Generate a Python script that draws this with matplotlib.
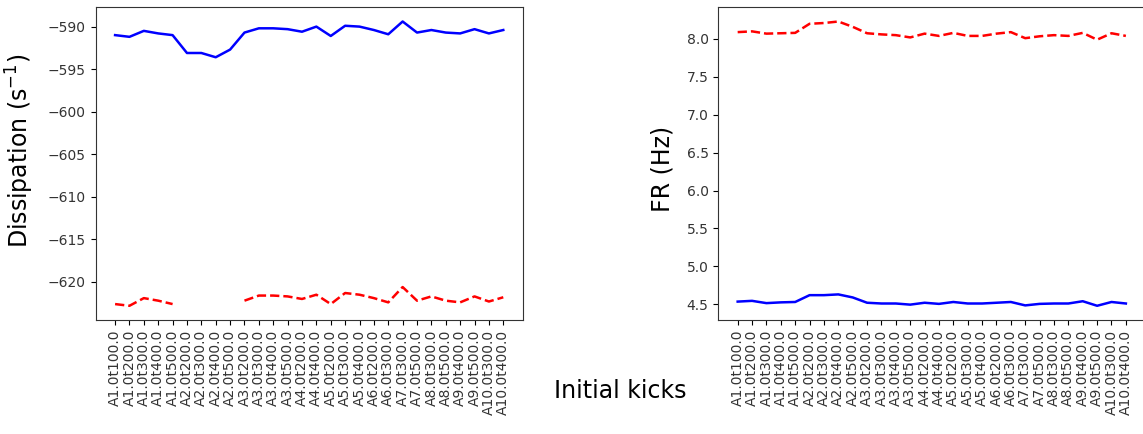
import matplotlib
matplotlib.use('Agg')
import matplotlib.pyplot as plt
import numpy as np

kicks = ['A1.0t100.0', 'A1.0t200.0', 'A1.0t300.0', 'A1.0t400.0', 'A1.0t500.0',
         'A2.0t200.0', 'A2.0t300.0', 'A2.0t400.0', 'A2.0t500.0',
         'A3.0t200.0', 'A3.0t300.0', 'A3.0t400.0', 'A3.0t500.0',
         'A4.0t200.0', 'A4.0t400.0',
         'A5.0t200.0', 'A5.0t300.0', 'A5.0t400.0',
         'A6.0t200.0', 'A6.0t300.0',
         'A7.0t300.0', 'A7.0t500.0',
         'A8.0t300.0', 'A8.0t500.0',
         'A9.0t400.0', 'A9.0t500.0',
         'A10.0t300.0', 'A10.0t400.0']

diss_blue = [-591.0, -591.2, -590.5, -590.8, -591.0, -593.1, -593.1, -593.6, -592.7,
             -590.7, -590.2, -590.2, -590.3, -590.6, -590.0, -591.1, -589.9, -590.0,
             -590.4, -590.9, -589.4, -590.7, -590.4, -590.7, -590.8, -590.3, -590.8,
             -590.4]
diss_red = [-622.6, -622.8, -621.9, -622.2, -622.6, np.nan, np.nan, np.nan, np.nan,
            -622.2, -621.6, -621.6, -621.7, -622.0, -621.5, -622.6, -621.3, -621.5,
            -621.9, -622.4, -620.6, -622.2, -621.7, -622.2, -622.4, -621.7, -622.3,
            -621.8]

fr_red = [8.09, 8.10, 8.07, 8.075, 8.08, 8.20, 8.21, 8.23, 8.16, 8.075, 8.06, 8.05,
          8.02, 8.07, 8.04, 8.08, 8.04, 8.04, 8.07, 8.09, 8.01, 8.035, 8.05, 8.04,
          8.08, 7.99, 8.075, 8.04]
fr_blue = [4.535, 4.545, 4.515, 4.525, 4.53, 4.62, 4.62, 4.63, 4.59, 4.52, 4.51, 4.51,
           4.495, 4.52, 4.505, 4.53, 4.51, 4.51, 4.52, 4.53, 4.485, 4.505, 4.51, 4.51,
           4.54, 4.48, 4.53, 4.51]

fig = plt.figure(figsize=(11.43, 4.34), dpi=100)
ax1 = fig.add_axes([0.0837, 0.2627, 0.3736, 0.7205])
ax2 = fig.add_axes([0.6284, 0.2627, 0.3736, 0.7205])

x = np.arange(len(kicks))

ax1.plot(x, diss_blue, 'b-', lw=1.8)
ax1.plot(x, diss_red, 'r--', lw=1.8)
ax1.set_ylabel(r'Dissipation (s$^{\mathregular{-1}}$)', fontsize=17)
ax1.yaxis.set_label_coords(-0.139, 0.541)

ax2.plot(x, fr_red, 'r--', lw=1.8)
ax2.plot(x, fr_blue, 'b-', lw=1.8)
ax2.set_ylabel('FR (Hz)', fontsize=17)
ax2.yaxis.set_label_coords(-0.1026, 0.4835)
# right edge of this panel is cut off in the original
ax2.spines['right'].set_visible(False)

for ax in (ax1, ax2):
    ax.set_xticks(x)
    ax.set_xticklabels(kicks, rotation=90, fontsize=10)
    ax.tick_params(labelsize=10, labelcolor='#333333')
    for s in ax.spines.values():
        s.set_color('#333333')

fig.text(0.543, 0.099, 'Initial kicks', fontsize=17, ha='center', va='center')

fig.savefig('out.png', dpi=100)
